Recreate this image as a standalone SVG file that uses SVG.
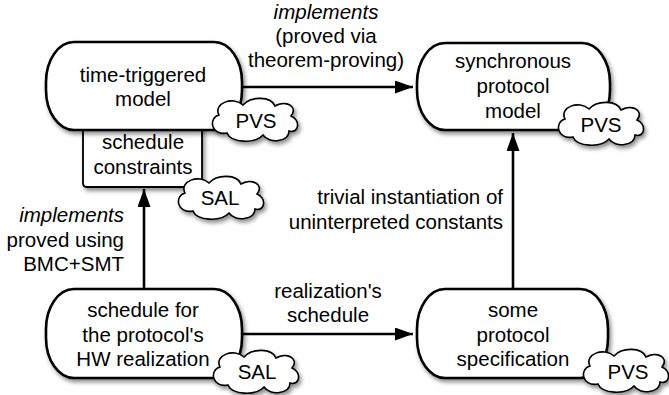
<svg xmlns="http://www.w3.org/2000/svg" width="669" height="395" viewBox="0 0 669 395">
<style>
text{font-family:"Liberation Sans",Arial,Helvetica,sans-serif;font-size:20.5px;fill:#000;text-anchor:middle}
.it{font-style:italic}
.r{text-anchor:end}
.node{fill:#fff;stroke:#000;stroke-width:2.6}
.box{fill:#fff;stroke:#000;stroke-width:1.8}
.cloud{fill:#fff;stroke:#000;stroke-width:1.6}
.conn{fill:none;stroke:#000;stroke-width:2.6}
</style>
<defs>
<filter id="sh" x="-20%" y="-20%" width="140%" height="150%">
<feDropShadow dx="2" dy="3" stdDeviation="2.2" flood-color="#000" flood-opacity="0.45"/>
</filter>
<marker id="ah" markerUnits="userSpaceOnUse" markerWidth="19" markerHeight="14" refX="18" refY="6.5" orient="auto">
<path d="M0,0 L18,6.5 L0,13 Z" fill="#000"/>
</marker>
<path id="cl" d="M-36,-5 C-42,-17 -22,-24 -12,-15 C-4,-24 16,-24 20,-14 C30,-20 44,-14 36,-4 C46,0 44,14 34,11 C34,22 14,24 8,15 C0,24 -24,23 -28,13 C-44,16 -47,-2 -36,-5 Z"/>
</defs>

<g id="connectors">
<line class="conn" x1="242" y1="87" x2="413" y2="87" marker-end="url(#ah)"/>
<line class="conn" x1="144" y1="289" x2="144" y2="189" marker-end="url(#ah)"/>
<line class="conn" x1="242" y1="334" x2="413" y2="334" marker-end="url(#ah)"/>
<line class="conn" x1="513" y1="289" x2="513" y2="133" marker-end="url(#ah)"/>
<text class="it" x="326" y="19">implements</text>
<text x="326" y="43">(proved via</text>
<text x="326" y="67">theorem-proving)</text>
<text class="it r" x="124" y="222">implements</text>
<text class="r" x="124" y="247">proved using</text>
<text class="r" x="124" y="271">BMC+SMT</text>
<text x="328" y="298">realization's</text>
<text x="328" y="322">schedule</text>
<text class="r" x="503" y="204">trivial instantiation of</text>
<text class="r" x="503" y="229">uninterpreted constants</text>
</g>

<g id="schedule-constraints">
<path class="box" filter="url(#sh)" d="M83,124 V183 Q83,187 87,187 H198 Q202,187 202,183 V124 Z"/>
<text x="143" y="149">schedule</text>
<text x="143" y="174">constraints</text>
</g>

<g id="time-triggered-model">
<rect class="node" filter="url(#sh)" x="46" y="42" width="196" height="88" rx="28" ry="40"/>
<text x="143" y="82">time-triggered</text>
<text x="143" y="106">model</text>
</g>

<g id="cloud-pvs-1">
<use href="#cl" class="cloud" filter="url(#sh)" transform="translate(255,120)"/>
<text x="256" y="128">PVS</text>
</g>

<g id="cloud-sal-1">
<use href="#cl" class="cloud" filter="url(#sh)" transform="translate(221,198)"/>
<text x="220" y="205">SAL</text>
</g>

<g id="synchronous-protocol-model">
<rect class="node" filter="url(#sh)" x="417" y="43" width="193" height="87" rx="28" ry="40"/>
<text x="513" y="68">synchronous</text>
<text x="513" y="93">protocol</text>
<text x="513" y="118">model</text>
</g>

<g id="cloud-pvs-2">
<use href="#cl" class="cloud" filter="url(#sh)" transform="translate(601,124)"/>
<text x="601" y="132">PVS</text>
</g>

<g id="schedule-hw">
<rect class="node" filter="url(#sh)" x="46" y="289" width="196" height="89" rx="28" ry="40"/>
<text x="143" y="317">schedule for</text>
<text x="143" y="342">the protocol's</text>
<text x="143" y="366">HW realization</text>
</g>

<g id="cloud-sal-2">
<use href="#cl" class="cloud" filter="url(#sh)" transform="translate(256,372)"/>
<text x="257" y="379">SAL</text>
</g>

<g id="some-protocol-specification">
<rect class="node" filter="url(#sh)" x="417" y="289" width="191" height="89" rx="28" ry="40"/>
<text x="513" y="317">some</text>
<text x="513" y="342">protocol</text>
<text x="513" y="366">specification</text>
</g>

<g id="cloud-pvs-3">
<use href="#cl" class="cloud" filter="url(#sh)" transform="translate(626,371)"/>
<text x="628" y="379">PVS</text>
</g>
</svg>
